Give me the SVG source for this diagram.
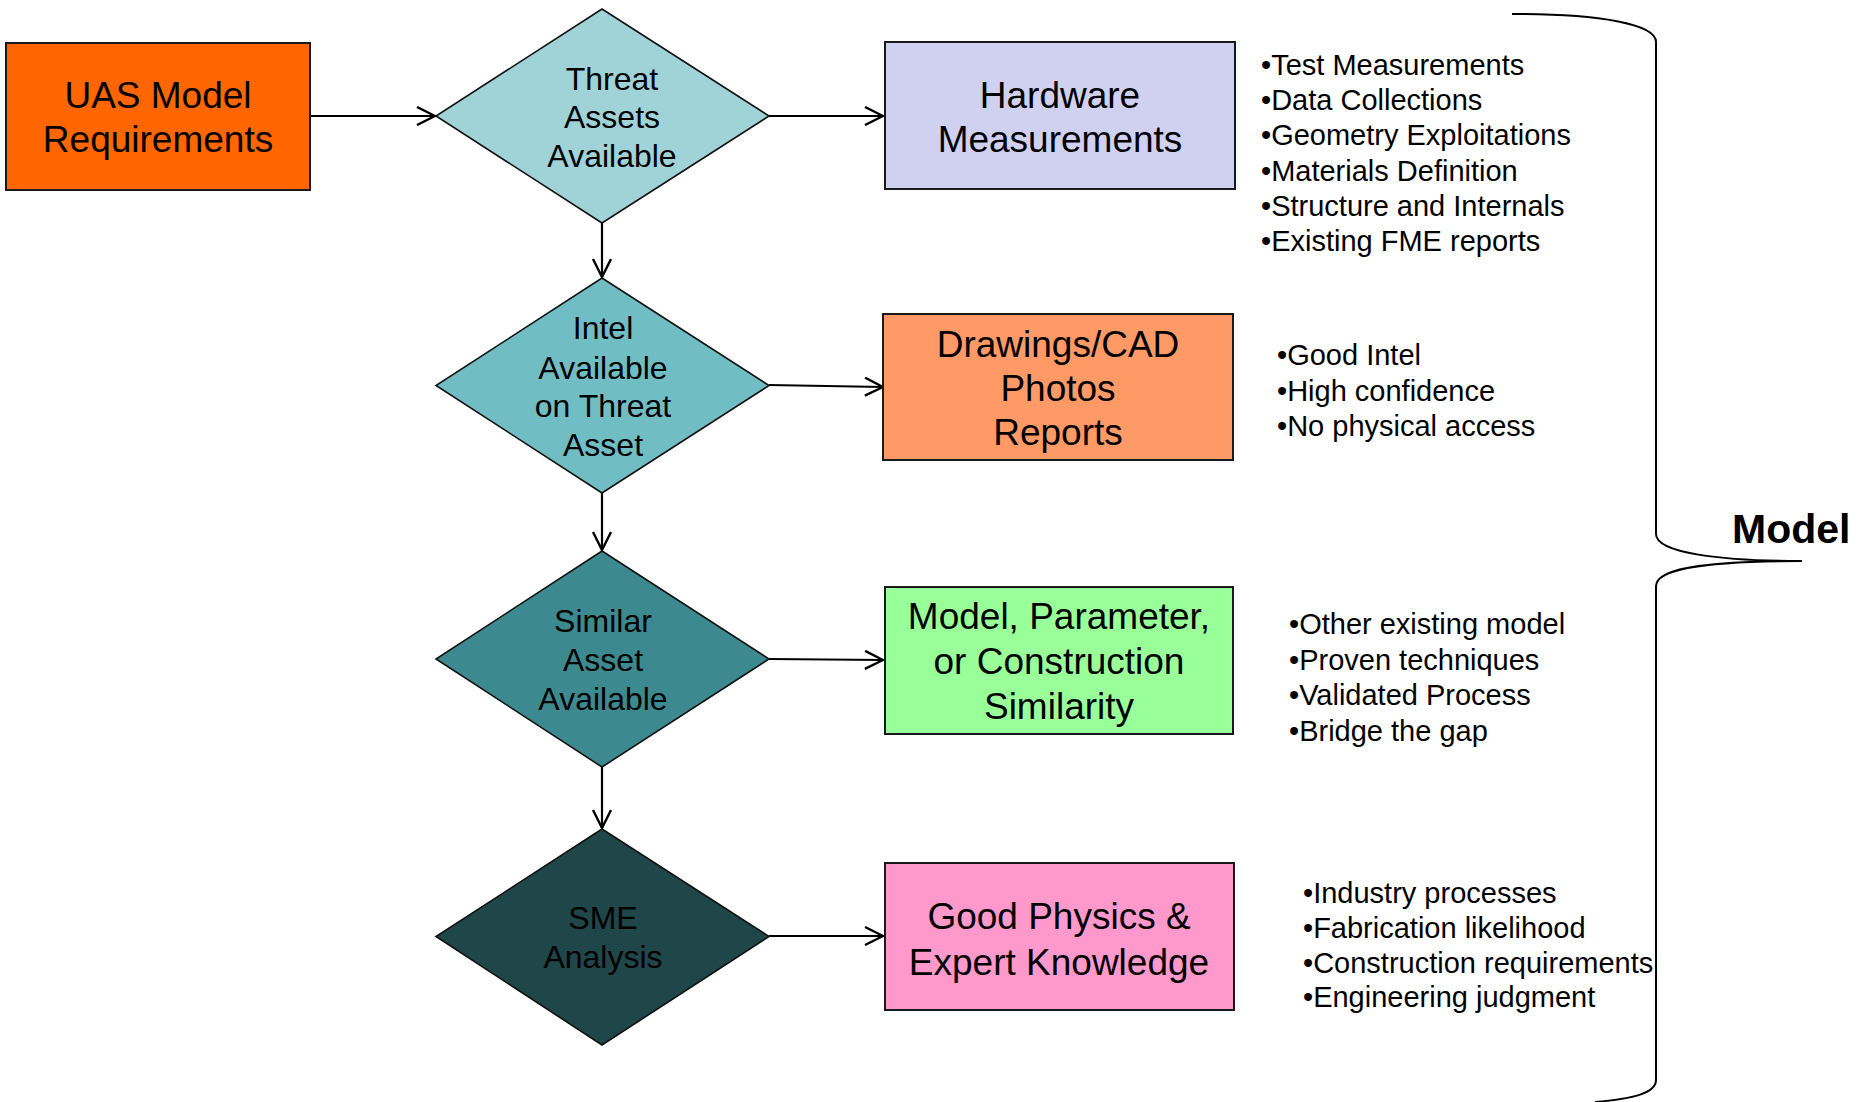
<svg xmlns="http://www.w3.org/2000/svg" width="1864" height="1102" viewBox="0 0 1864 1102">
<defs>
<style>
.box{stroke:#1a1a1a;stroke-width:2}
.dia{stroke:#111;stroke-width:1.6}
.t37{font-family:"Liberation Sans",Arial,sans-serif;font-size:37px;fill:#000;text-anchor:middle}
.t32{font-family:"Liberation Sans",Arial,sans-serif;font-size:32px;fill:#000;text-anchor:middle}
.bl{font-family:"Liberation Sans",Arial,sans-serif;font-size:29px;fill:#000}
.con{stroke:#000;stroke-width:2.2;fill:none;marker-end:url(#arr)}
</style>
<marker id="arr" viewBox="0 0 20 20" refX="19" refY="10" markerWidth="20" markerHeight="20" markerUnits="userSpaceOnUse" orient="auto">
<path d="M1,1 L19,10 L1,19" fill="none" stroke="#000" stroke-width="2.4"/>
</marker>
</defs>
<rect width="1864" height="1102" fill="#fff"/>

<g id="connectors">
<line class="con" x1="310" y1="116" x2="435" y2="116"/>
<line class="con" x1="769" y1="116" x2="883" y2="116"/>
<line class="con" x1="602" y1="223" x2="602" y2="277"/>
<line class="con" x1="769" y1="385" x2="883" y2="387"/>
<line class="con" x1="602" y1="493" x2="602" y2="550"/>
<line class="con" x1="769" y1="659" x2="883" y2="660"/>
<line class="con" x1="602" y1="767" x2="602" y2="828"/>
<line class="con" x1="769" y1="936" x2="883" y2="936"/>
</g>

<g id="uas">
<rect class="box" x="6" y="43" width="304" height="147" fill="#FF6600"/>
<text class="t37" x="158" y="108">UAS Model</text>
<text class="t37" x="158" y="152">Requirements</text>
</g>

<g id="d-threat">
<polygon class="dia" points="602,9 769,116 602,223 436,116" fill="#A0D3D8"/>
<text class="t32" x="612" y="89.5">Threat</text>
<text class="t32" x="612" y="128">Assets</text>
<text class="t32" x="612" y="166.5">Available</text>
</g>

<g id="d-intel">
<polygon class="dia" points="602,278 769,385.5 602,493 436,385.5" fill="#70BEC4"/>
<text class="t32" x="603" y="339">Intel</text>
<text class="t32" x="603" y="378.5">Available</text>
<text class="t32" x="603" y="417">on Threat</text>
<text class="t32" x="603" y="456">Asset</text>
</g>

<g id="d-similar">
<polygon class="dia" points="602,551 769,659 602,767 436,659" fill="#3C8A90"/>
<text class="t32" x="603" y="632">Similar</text>
<text class="t32" x="603" y="671">Asset</text>
<text class="t32" x="603" y="710">Available</text>
</g>

<g id="d-sme">
<polygon class="dia" points="602,829 769,936.5 602,1045 436,936.5" fill="#1F4649"/>
<text class="t32" x="603" y="929">SME</text>
<text class="t32" x="603" y="968">Analysis</text>
</g>

<g id="hardware">
<rect class="box" x="885" y="42" width="350" height="147" fill="#D0D0F0"/>
<text class="t37" x="1060" y="107.5">Hardware</text>
<text class="t37" x="1060" y="151.5">Measurements</text>
</g>

<g id="drawings">
<rect class="box" x="883" y="314" width="350" height="146" fill="#FF9966"/>
<text class="t37" x="1058" y="356.5">Drawings/CAD</text>
<text class="t37" x="1058" y="400.5">Photos</text>
<text class="t37" x="1058" y="444.5">Reports</text>
</g>

<g id="similarity">
<rect class="box" x="885" y="587" width="348" height="147" fill="#99FF99"/>
<text class="t37" x="1059" y="629">Model, Parameter,</text>
<text class="t37" x="1059" y="674">or Construction</text>
<text class="t37" x="1059" y="719">Similarity</text>
</g>

<g id="physics">
<rect class="box" x="885" y="863" width="349" height="147" fill="#FF99CC"/>
<text class="t37" x="1059" y="928.5">Good Physics &amp;</text>
<text class="t37" x="1059" y="974.5">Expert Knowledge</text>
</g>

<g id="notes-hardware">
<text class="bl" x="1261" y="75">•Test Measurements</text>
<text class="bl" x="1261" y="110.2">•Data Collections</text>
<text class="bl" x="1261" y="145.4">•Geometry Exploitations</text>
<text class="bl" x="1261" y="180.6">•Materials Definition</text>
<text class="bl" x="1261" y="215.8">•Structure and Internals</text>
<text class="bl" x="1261" y="251">•Existing FME reports</text>
</g>

<g id="notes-intel">
<text class="bl" x="1277" y="365">•Good Intel</text>
<text class="bl" x="1277" y="400.5">•High confidence</text>
<text class="bl" x="1277" y="436">•No physical access</text>
</g>

<g id="notes-similar">
<text class="bl" x="1289" y="634">•Other existing model</text>
<text class="bl" x="1289" y="669.5">•Proven techniques</text>
<text class="bl" x="1289" y="705">•Validated Process</text>
<text class="bl" x="1289" y="740.5">•Bridge the gap</text>
</g>

<g id="notes-sme">
<text class="bl" x="1303" y="903">•Industry processes</text>
<text class="bl" x="1303" y="937.8">•Fabrication likelihood</text>
<text class="bl" x="1303" y="972.5">•Construction requirements</text>
<text class="bl" x="1303" y="1007.2">•Engineering judgment</text>
</g>

<g id="model-brace">
<path d="M1512,14 C1600,14 1656,24 1656,42 L1656,534 C1656,553 1720,561 1802,561 C1720,561 1656,566 1656,586 L1656,1080 C1656,1094 1630,1099 1595,1102" fill="none" stroke="#000" stroke-width="2"/>
<text x="1732" y="543" font-family="'Liberation Sans',Arial,sans-serif" font-size="41" font-weight="bold" fill="#000">Model</text>
</g>
</svg>
